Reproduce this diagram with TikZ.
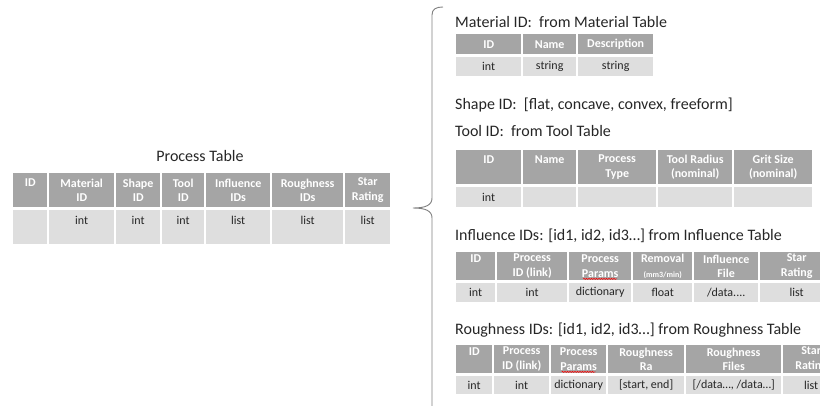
\documentclass[tikz,border=0pt]{standalone}
\usepackage{fontspec}
\setmainfont{Carlito}
\usetikzlibrary{decorations.pathmorphing}

\definecolor{hdrgray}{HTML}{A5A5A5}
\definecolor{rowgray}{HTML}{DEDEDE}
\definecolor{txtgray}{HTML}{262626}
\definecolor{bracegray}{HTML}{7F7F7F}

\tikzset{
  hcell/.style={fill=hdrgray, text=white, font=\bfseries\fontsize{12}{14.5}\selectfont,
    align=center, inner sep=0pt, anchor=north west},
  dcell/.style={fill=rowgray, text=txtgray, font=\fontsize{12}{14.5}\selectfont,
    align=center, inner sep=0pt, anchor=north west},
  ttl/.style={font=\fontsize{16}{19}\selectfont, text=txtgray, inner sep=0pt, anchor=base west},
  spell/.style={red, line width=0.5pt, decorate,
    decoration={snake, amplitude=0.6pt, segment length=2.5pt}},
}

\begin{document}
\begin{tikzpicture}[x=1pt, y=-1pt]
  \useasboundingbox (0,0) rectangle (820,405);
  \clip (0,0) rectangle (820,405);

  % Process Table
  \node[ttl, anchor=base] (pTitle) at (200,161) {Process Table};
  \foreach \l/\r/\t [count=\i] in {12/48/{ID\\\mbox{}}, 48/115/{Material\\ID},
      115/161/{Shape\\ID}, 161/205/{Tool\\ID}, 205/271/{Influence\\IDs},
      271/344/{Roughness\\IDs}, 344/391/{Star\\Rating}}
    \node[hcell, minimum width={\r-\l-2}, minimum height=34] (p-h\i) at (\l+1,173) {\t};
  \foreach \l/\r/\t [count=\i] in {12/48/{}, 48/115/{int\\\mbox{}},
      115/161/{int\\\mbox{}}, 161/205/{int\\\mbox{}}, 205/271/{list\\\mbox{}},
      271/344/{list\\\mbox{}}, 344/391/{list\\\mbox{}}}
    \node[dcell, minimum width={\r-\l-2}, minimum height=34] (p-d\i) at (\l+1,210) {\t};

  % brace
  \coordinate (brTop) at (443,7);
  \coordinate (brTip) at (413,208);
  \coordinate (brEnd) at (432,420);
  \draw[bracegray, line width=0.9pt] (brTop) .. controls (436,7) and (432,9) .. (432,15)
    -- (432,198) .. controls (432,205) and (426,208) .. (brTip)
    .. controls (426,208) and (432,211) .. (432,218) -- (brEnd);

  % Material ID
  \node[ttl] (mTitle) at (455,27) {Material ID:~ from Material Table};
  \foreach \l/\r/\t [count=\i] in {455/522/ID, 522/577/Name, 577/654/Description}
    \node[hcell, minimum width={\r-\l-2}, minimum height=20] (m-h\i) at (\l+1,34) {\t};
  \foreach \l/\r/\t [count=\i] in {455/522/int, 522/577/string, 577/654/string}
    \node[dcell, minimum width={\r-\l-2}, minimum height=19] (m-d\i) at (\l+1,57) {\t};

  % Shape ID
  \node[ttl] (sTitle) at (455,109) {Shape ID:~ [flat, concave, convex, freeform]};

  % Tool ID
  \node[ttl] (tTitle) at (455,136) {Tool ID:~ from Tool Table};
  \foreach \l/\r/\t [count=\i] in {455/522/{ID\\\mbox{}}, 522/577/{Name\\\mbox{}},
      577/657/{Process\\Type}, 657/733/{Tool Radius\\(nominal)},
      733/813/{Grit Size\\(nominal)}}
    \node[hcell, minimum width={\r-\l-2}, minimum height=34] (t-h\i) at (\l+1,150) {\t};
  \foreach \l/\r/\t [count=\i] in {455/522/int, 522/577/{}, 577/657/{}, 657/733/{}, 733/813/{}}
    \node[dcell, minimum width={\r-\l-2}, minimum height=20] (t-d\i) at (\l+1,187) {\t};

  % Influence IDs
  \node[ttl] (iTitle) at (455,240) {Influence IDs: [id1, id2, id3…] from Influence Table};
  \foreach \l/\r/\t [count=\i] in {455/496/{ID\\\mbox{}}, 496/568/{Process\\ID (link)},
      568/632/{Process\\Params}, 632/693/{Removal\\{\fontsize{8}{10}\selectfont(mm3/min)}},
      693/759/{Influence\\File}, 759/834/{Star\\Rating}}
    \node[hcell, minimum width={\r-\l-2}, minimum height=28] (i-h\i) at (\l+1,252) {\t};
  \foreach \l/\r/\t [count=\i] in {455/496/int, 496/568/int, 568/632/dictionary,
      632/693/float, 693/759/{/data.{}.{}.{}.}, 759/834/list}
    \node[dcell, minimum width={\r-\l-2}, minimum height=19] (i-d\i) at (\l+1,283) {\t};
  \draw[spell] ([xshift=-17pt, yshift=1.5pt]i-h3.south) -- ([xshift=17pt, yshift=1.5pt]i-h3.south);

  % Roughness IDs
  \node[ttl] (rTitle) at (455,334) {Roughness IDs: [id1, id2, id3…] from Roughness Table};
  \foreach \l/\r/\t [count=\i] in {455/493/{ID\\\mbox{}}, 493/550/{Process\\ID (link)},
      550/607/{Process\\Params}, 607/685/{Roughness\\Ra},
      685/782/{Roughness\\Files}, 782/840/{Star\\Rating}}
    \node[hcell, minimum width={\r-\l-2}, minimum height=28] (r-h\i) at (\l+1,345) {\t};
  \foreach \l/\r/\t [count=\i] in {455/493/int, 493/550/int, 550/607/dictionary,
      607/685/{[start, end]}, 685/782/{[/data…, /data…]}, 782/840/list}
    \node[dcell, minimum width={\r-\l-2}, minimum height=18] (r-d\i) at (\l+1,376) {\t};
  \draw[spell] ([xshift=-17pt, yshift=1.5pt]r-h3.south) -- ([xshift=17pt, yshift=1.5pt]r-h3.south);
\end{tikzpicture}
\end{document}
